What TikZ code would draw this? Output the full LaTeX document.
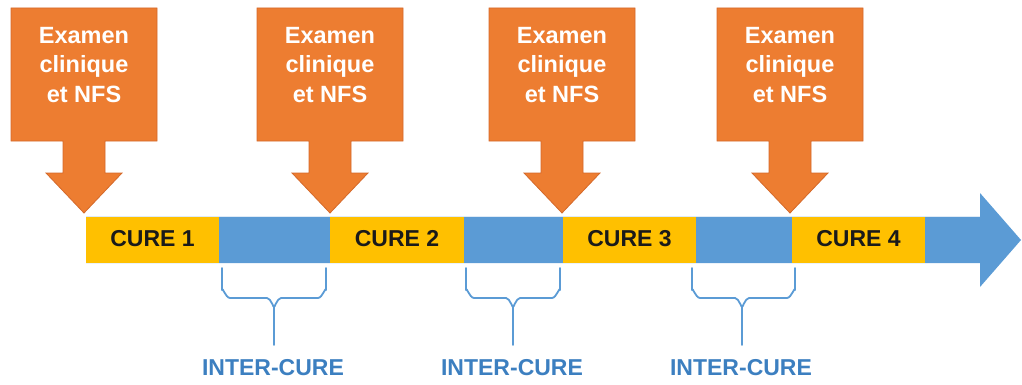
\documentclass[tikz,border=0pt]{standalone}
\usepackage{fontspec}
\setmainfont{Liberation Sans}
\definecolor{corange}{HTML}{ED7D31}
\definecolor{corangeD}{HTML}{D4692A}
\definecolor{cyellow}{HTML}{FFC000}
\definecolor{cblue}{HTML}{5B9BD5}
\definecolor{cblueT}{HTML}{3C7FC0}
\definecolor{ctext}{HTML}{1A1A1A}
\tikzset{
  callout/.style={fill=corange,draw=corangeD,line width=0.8pt,line join=miter},
  callouttext/.style={text=white,font=\bfseries\fontsize{23.5}{29.5}\selectfont,align=center,inner sep=0pt},
  curebox/.style={fill=cyellow,draw=none},
  curetext/.style={text=ctext,font=\bfseries\fontsize{23}{26}\selectfont,inner sep=0pt},
  bracestyle/.style={draw=cblue,line width=1.8pt,line cap=round,line join=round},
  intertext/.style={text=cblueT,font=\bfseries\fontsize{23}{26}\selectfont,inner sep=0pt}
}
\begin{document}
\begin{tikzpicture}[x=1pt,y=-1pt]
\useasboundingbox (0,0) rectangle (1022,385);
% timeline arrow
\fill[cblue] (86,216) -- (980,216) -- (980,193) -- (1021,240) -- (980,287) -- (980,263) -- (86,263) -- cycle;
\draw[white!80!cblue,line width=0.8pt] (86,216.4) -- (980,216.4);
% cure boxes
\fill[curebox] (86,216.8) rectangle (219,262.6);
\fill[curebox] (330,216.8) rectangle (464,262.6);
\fill[curebox] (563,216.8) rectangle (696,262.6);
\fill[curebox] (792,216.8) rectangle (925,262.6);
\node[curetext] (c1) at (152.5,239) {CURE 1};
\node[curetext] (c2) at (397,239) {CURE 2};
\node[curetext] (c3) at (629.5,239) {CURE 3};
\node[curetext] (c4) at (858.5,239) {CURE 4};
% callouts
\foreach \c/\n in {84/e1,330/e2,562/e3,790/e4}{
  \draw[callout] (\c-73,8) -- (\c+73,8) -- (\c+73,141) -- (\c+21,141) -- (\c+21,173) -- (\c+38,173)
    -- (\c,213) -- (\c-38,173) -- (\c-21,173) -- (\c-21,141) -- (\c-73,141) -- cycle;
  \node[callouttext] (\n) at (\c,65) {Examen\\clinique\\et NFS};
}
% braces
\foreach \l/\m/\r/\n in {222/274/326/i1,466/513/560/i2,692/742/795/i3}{
  \draw[bracestyle] (\l,268) -- (\l,290) to[out=90,in=180] (\l+8,298) -- (\m-7,298)
     to[out=0,in=-90] (\m,306) -- (\m,345);
  \draw[bracestyle] (\r,268) -- (\r,290) to[out=90,in=0] (\r-8,298) -- (\m+7,298)
     to[out=180,in=-90] (\m,306);
  \node[intertext] (\n) at (\m-1,368) {INTER-CURE};
}
\end{tikzpicture}
\end{document}
